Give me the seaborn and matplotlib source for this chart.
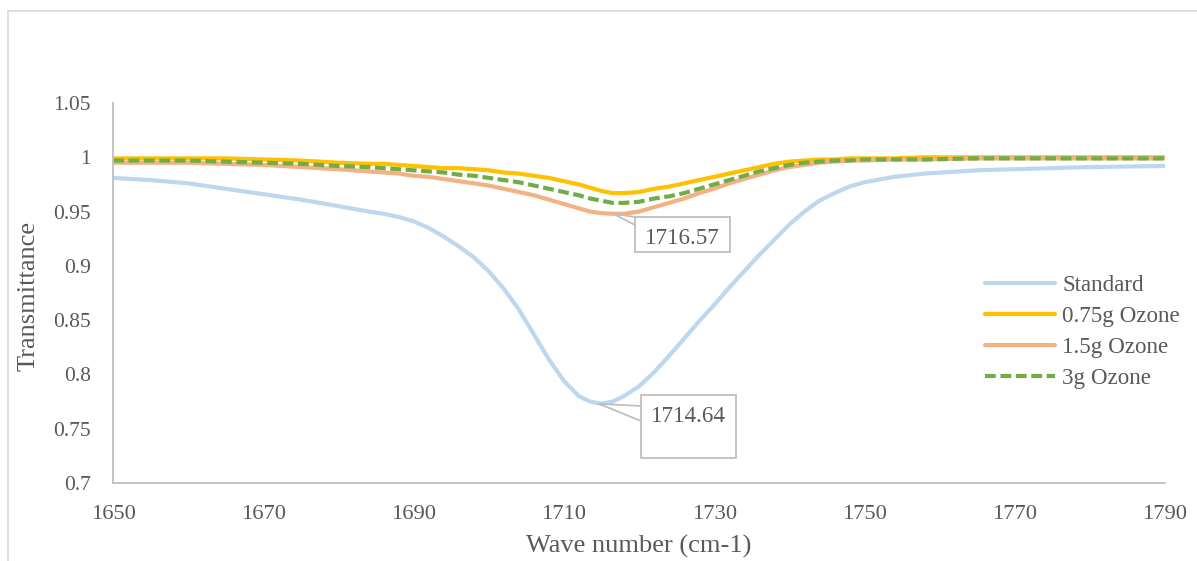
import matplotlib
matplotlib.use("Agg")
import matplotlib.pyplot as plt
import seaborn as sns
import pandas as pd
from matplotlib.lines import Line2D
from matplotlib.patches import Rectangle

sns.set_theme(style="white")
plt.rcParams['font.family'] = ['Liberation Serif', 'DejaVu Serif']

# Wave numbers (cm-1)
wave = [1650, 1655, 1660, 1665, 1670, 1675, 1680, 1684, 1686, 1688, 1690, 1692,
        1694, 1696, 1698, 1700, 1702, 1704, 1706, 1708, 1710, 1712, 1713.5, 1715,
        1716.5, 1718, 1720, 1722, 1724, 1726, 1728, 1730, 1732, 1734, 1736, 1738,
        1740, 1742, 1744, 1746, 1748, 1750, 1754, 1758, 1765, 1770, 1780, 1790]

standard = [0.981, 0.979, 0.976, 0.971, 0.966, 0.961, 0.955, 0.950, 0.948, 0.945, 0.941, 0.935,
            0.927, 0.918, 0.908, 0.895, 0.879, 0.860, 0.837, 0.814, 0.794, 0.780, 0.775, 0.773,
            0.775, 0.780, 0.789, 0.802, 0.817, 0.833, 0.849, 0.864, 0.880, 0.895, 0.910, 0.924,
            0.938, 0.950, 0.960, 0.967, 0.973, 0.977, 0.982, 0.985, 0.988, 0.989, 0.991, 0.992]

ozone_075 = [0.999, 0.999, 0.999, 0.999, 0.998, 0.997, 0.995, 0.994, 0.994, 0.993, 0.992, 0.991,
             0.990, 0.990, 0.989, 0.988, 0.986, 0.985, 0.983, 0.981, 0.978, 0.975, 0.972, 0.969,
             0.967, 0.967, 0.968, 0.971, 0.973, 0.976, 0.979, 0.982, 0.985, 0.988, 0.991, 0.994,
             0.996, 0.997, 0.998, 0.998, 0.999, 0.999, 0.999, 1.000, 1.000, 1.000, 1.000, 1.000]

ozone_15 = [0.995, 0.995, 0.995, 0.994, 0.993, 0.991, 0.989, 0.987, 0.986, 0.985, 0.983, 0.982,
            0.980, 0.978, 0.976, 0.974, 0.971, 0.968, 0.965, 0.961, 0.957, 0.953, 0.950, 0.9485,
            0.948, 0.948, 0.950, 0.954, 0.958, 0.962, 0.967, 0.971, 0.976, 0.980, 0.984, 0.988,
            0.991, 0.993, 0.995, 0.996, 0.997, 0.997, 0.998, 0.998, 0.999, 0.999, 0.999, 0.999]

ozone_3 = [0.997, 0.997, 0.997, 0.996, 0.995, 0.994, 0.992, 0.991, 0.990, 0.989, 0.988, 0.987,
           0.986, 0.984, 0.983, 0.981, 0.979, 0.977, 0.974, 0.971, 0.968, 0.965, 0.962, 0.960,
           0.958, 0.958, 0.959, 0.962, 0.964, 0.967, 0.971, 0.975, 0.979, 0.983, 0.987, 0.990,
           0.993, 0.995, 0.996, 0.997, 0.997, 0.998, 0.998, 0.998, 0.999, 0.999, 0.999, 0.999]

series_names = ["Standard", "0.75g Ozone", "1.5g Ozone", "3g Ozone"]
series_colors = ["#BDD7EE", "#FFC000", "#F4B183", "#70AD47"]
series_dashed = [False, False, False, True]

y_ticks = [0.7, 0.75, 0.8, 0.85, 0.9, 0.95, 1.0, 1.05]
y_labels = ["0.7", "0.75", "0.8", "0.85", "0.9", "0.95", "1", "1.05"]
x_ticks = [1650, 1670, 1690, 1710, 1730, 1750, 1770, 1790]

callout_labels = ["1716.57", "1714.64"]

df = pd.DataFrame({"wave": wave, "Standard": standard, "0.75g Ozone": ozone_075,
                   "1.5g Ozone": ozone_15, "3g Ozone": ozone_3})

W, H = 1197, 561
AX_L, AX_R, AX_T, AX_B = 113, 1165, 103, 483
XMIN, XMAX, YMIN, YMAX = 1650, 1790, 0.7, 1.05

fig = plt.figure(figsize=(W / 100, H / 100), dpi=100)
ax = fig.add_axes([AX_L / W, (H - AX_B) / H, (AX_R - AX_L) / W, (AX_B - AX_T) / H])

for name, col, dashed in zip(series_names, series_colors, series_dashed):
    sns.lineplot(data=df, x="wave", y=name, ax=ax, color=col, linewidth=3,
                 label=name, legend=False)
    if dashed:
        ax.lines[-1].set_dashes((2.6, 1.1))

ax.set_xlim(XMIN, XMAX)
ax.set_ylim(YMIN, YMAX)
ax.set_xticks(x_ticks)
ax.set_xticklabels([str(t) for t in x_ticks], fontsize=16.2)
ax.set_yticks(y_ticks)
ax.set_yticklabels(y_labels, fontsize=15.5)
ax.tick_params(axis='both', length=0, labelcolor="#595959")
ax.tick_params(axis='x', pad=15.5)
ax.tick_params(axis='y', pad=15.8)

for s in ["top", "right"]:
    ax.spines[s].set_visible(False)
for s in ["left", "bottom"]:
    ax.spines[s].set_color("#BFBFBF")
    ax.spines[s].set_linewidth(1.3)

ax.set_xlabel("")
ax.set_ylabel("")
fig.text((AX_L + AX_R) / 2 / W, (H - 553) / H, "Wave number (cm-1)", fontsize=19,
         color="#595959", ha="center", va="baseline")
fig.text(35 / W, (H - 296) / H, "Transmittance", fontsize=19, color="#595959",
         rotation=90, rotation_mode="anchor", ha="center", va="baseline")

handles, labels = ax.get_legend_handles_labels()
leg = ax.legend(handles, labels, loc="center left",
                bbox_to_anchor=(985 / W, (H - 332) / H), bbox_transform=fig.transFigure,
                frameon=False, fontsize=16.6, handlelength=3.04, handletextpad=0.3,
                labelspacing=0.43, borderpad=0, borderaxespad=0)
for t in leg.get_texts():
    t.set_color("#595959")


def px2data(px, py):
    return (XMIN + (px - AX_L) * (XMAX - XMIN) / (AX_R - AX_L),
            YMIN + (AX_B - py) * (YMAX - YMIN) / (AX_B - AX_T))


def callout(label, y_point, box, text_xy, wedge):
    x0, y0 = px2data(box[0], box[3])
    x1, y1 = px2data(box[2], box[1])
    pt = (float(label), y_point)
    wa = px2data(*wedge[0])
    wb = px2data(*wedge[1])
    ax.plot([wa[0], pt[0], wb[0]], [wa[1], pt[1], wb[1]], color="#BFBFBF",
            lw=1.3, zorder=5, solid_joinstyle="miter")
    ax.add_patch(Rectangle((x0, y0), x1 - x0, y1 - y0, fc="white", ec="#BFBFBF",
                           lw=1.3, zorder=6))
    tx, ty = px2data(*text_xy)
    ax.text(tx, ty, label, fontsize=16.6, color="#595959", ha="center",
            va="baseline", zorder=7)


callout(callout_labels[0], min(ozone_15), (635, 217, 730, 252), (682.5, 244),
        ((635, 217), (635, 225)))
callout(callout_labels[1], min(standard), (641, 395, 736, 458), (688.5, 422),
        ((641, 406), (641, 421)))

# Outer chart border (partially visible)
fig.add_artist(Line2D([8 / W, 1.0], [1 - 11 / H, 1 - 11 / H],
                      transform=fig.transFigure, color="#D9D9D9", lw=1.2))
fig.add_artist(Line2D([8 / W, 8 / W], [0.0, 1 - 11 / H],
                      transform=fig.transFigure, color="#D9D9D9", lw=1.2))

fig.savefig("out.png", dpi=100)
